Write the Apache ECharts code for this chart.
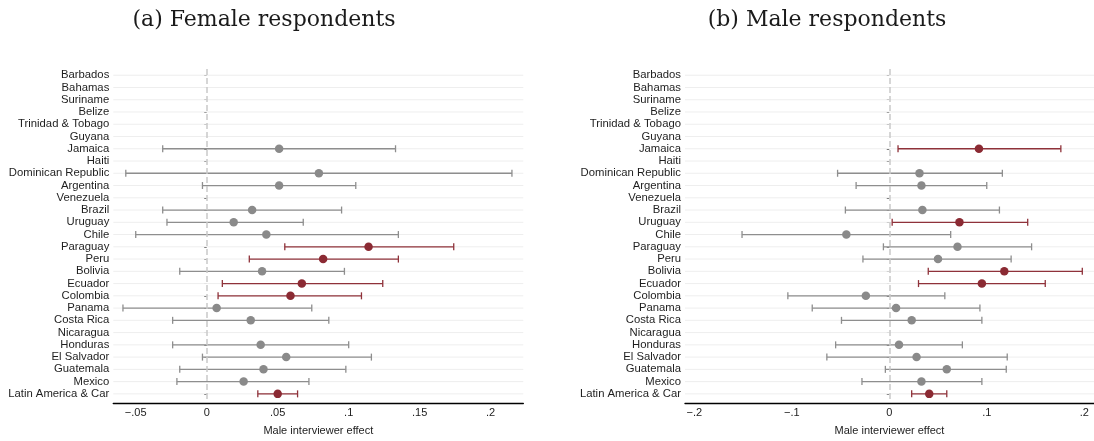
<!DOCTYPE html>
<html>
<head>
<meta charset="utf-8">
<script src="https://cdn.jsdelivr.net/npm/echarts@6/dist/echarts.min.js"></script>
<style>
  html, body { margin: 0; padding: 0; background: #fff; }
  #chart { width: 1094px; height: 441px; }
</style>
</head>
<body>
<div id="chart"></div>
<script>
// Countries, top to bottom
const countries = [
  'Barbados', 'Bahamas', 'Suriname', 'Belize', 'Trinidad & Tobago', 'Guyana',
  'Jamaica', 'Haiti', 'Dominican Republic', 'Argentina', 'Venezuela', 'Brazil',
  'Uruguay', 'Chile', 'Paraguay', 'Peru', 'Bolivia', 'Ecuador', 'Colombia',
  'Panama', 'Costa Rica', 'Nicaragua', 'Honduras', 'El Salvador', 'Guatemala',
  'Mexico', 'Latin America & Car'
];

// (a) Female respondents: estimate and 95% interval (null = no estimate)
const femaleEst = [null, null, null, null, null, null,
  0.051, null, 0.079, 0.051, null, 0.032,
  0.019, 0.042, 0.114, 0.082, 0.039, 0.067, 0.059,
  0.007, 0.031, null, 0.038, 0.056, 0.040,
  0.026, 0.050];
const femaleLow = [null, null, null, null, null, null,
  -0.031, null, -0.057, -0.003, null, -0.031,
  -0.028, -0.050, 0.055, 0.030, -0.019, 0.011, 0.008,
  -0.059, -0.024, null, -0.024, -0.003, -0.019,
  -0.021, 0.036];
const femaleHigh = [null, null, null, null, null, null,
  0.133, null, 0.215, 0.105, null, 0.095,
  0.068, 0.135, 0.174, 0.135, 0.097, 0.124, 0.109,
  0.074, 0.086, null, 0.100, 0.116, 0.098,
  0.072, 0.064];

// (b) Male respondents
const maleEst = [null, null, null, null, null, null,
  0.092, null, 0.031, 0.033, null, 0.034,
  0.072, -0.044, 0.070, 0.050, 0.118, 0.095, -0.024,
  0.007, 0.023, null, 0.010, 0.028, 0.059,
  0.033, 0.041];
const maleLow = [null, null, null, null, null, null,
  0.009, null, -0.053, -0.034, null, -0.045,
  0.003, -0.151, -0.006, -0.027, 0.040, 0.030, -0.104,
  -0.079, -0.049, null, -0.055, -0.064, -0.004,
  -0.028, 0.023];
const maleHigh = [null, null, null, null, null, null,
  0.176, null, 0.116, 0.100, null, 0.113,
  0.142, 0.063, 0.146, 0.125, 0.198, 0.160, 0.057,
  0.093, 0.095, null, 0.075, 0.121, 0.120,
  0.095, 0.059];

const femaleTicks = [-0.05, 0, 0.05, 0.1, 0.15, 0.2];
const maleTicks = [-0.2, -0.1, 0, 0.1, 0.2];

const RED_LINE = '#8f323a';
const RED_DOT = '#8b2a33';
const GREY_LINE = '#8e8e8e';
const GREY_DOT = '#8a8a8a';
const FONT = '"Liberation Sans", Arial, Helvetica, sans-serif';

function tickLabel(v) {
  if (Math.abs(v) < 1e-9) return '0';
  let s = Math.abs(v).toFixed(2).replace(/^0/, '').replace(/0$/, '');
  return (v < 0 ? '\u2212' : '') + s;
}

const chart = echarts.init(document.getElementById('chart'), null, { renderer: 'canvas' });

const panels = [
  { est: femaleEst, low: femaleLow, high: femaleHigh, ticks: femaleTicks, min: -0.0658, max: 0.223 },
  { est: maleEst, low: maleLow, high: maleHigh, ticks: maleTicks, min: -0.2095, max: 0.21 }
];

const grids = [
  { left: 113.3, width: 410, top: 69.1, height: 333.8 },
  { left: 685, width: 409, top: 69.1, height: 333.8 }
];

const xAxes = [], yAxes = [], series = [];

panels.forEach((p, k) => {
  xAxes.push({
    type: 'value', gridIndex: k, min: p.min, max: p.max, offset: 3,
    axisLine: { show: true, lineStyle: { color: '#000', width: 1.4 } },
    axisTick: { show: false },
    splitLine: { show: false },
    axisLabel: {
      customValues: p.ticks, formatter: tickLabel, margin: 4,
      color: '#222', fontSize: 11, fontFamily: FONT
    },
    name: 'Male interviewer effect', nameLocation: 'middle', nameGap: 22,
    nameTextStyle: { color: '#222', fontSize: 11, fontFamily: FONT }
  });
  yAxes.push({
    type: 'category', gridIndex: k, data: countries, inverse: true,
    boundaryGap: true,
    axisLine: { show: false },
    axisTick: { show: true, alignWithLabel: true, length: 2.5, lineStyle: { color: '#555', width: 1 } },
    axisLabel: { margin: 4, color: '#1e1e1e', fontSize: 11.3, fontFamily: FONT, interval: 0 },
    splitLine: { show: false }
  });

  // horizontal guide line for every country row, plus the zero reference
  series.push({
    type: 'custom', xAxisIndex: k, yAxisIndex: k, silent: true, z: 1,
    data: countries.map((c, i) => [0, i]),
    encode: { x: 0, y: 1 },
    renderItem: (params, api) => {
      const y = api.coord([0, api.value(1)])[1];
      const cs = params.coordSys;
      return {
        type: 'line',
        shape: { x1: cs.x, y1: y, x2: cs.x + cs.width, y2: y },
        style: { stroke: '#eeeeee', lineWidth: 1 }
      };
    },
    markLine: {
      silent: true, symbol: 'none', label: { show: false },
      lineStyle: { color: '#c9c9c9', width: 1.5, type: [6, 3] },
      data: [{ xAxis: 0 }]
    }
  });

  // confidence intervals with end caps
  const ci = [];
  countries.forEach((c, i) => {
    if (p.est[i] !== null) ci.push([p.low[i], i, p.high[i]]);
  });
  series.push({
    type: 'custom', xAxisIndex: k, yAxisIndex: k, silent: true, z: 2,
    data: ci,
    encode: { x: [0, 2], y: 1 },
    renderItem: (params, api) => {
      const lo = api.value(0), hi = api.value(2), row = api.value(1);
      const a = api.coord([lo, row]);
      const b = api.coord([hi, row]);
      const color = lo > 0 ? RED_LINE : GREY_LINE;
      const st = { stroke: color, lineWidth: 1.3 };
      const h = 3.5;
      return {
        type: 'group',
        children: [
          { type: 'line', shape: { x1: a[0], y1: a[1], x2: b[0], y2: b[1] }, style: st },
          { type: 'line', shape: { x1: a[0], y1: a[1] - h, x2: a[0], y2: a[1] + h }, style: st },
          { type: 'line', shape: { x1: b[0], y1: b[1] - h, x2: b[0], y2: b[1] + h }, style: st }
        ]
      };
    }
  });

  // point estimates
  const pts = [];
  countries.forEach((c, i) => {
    if (p.est[i] !== null) pts.push([p.est[i], i]);
  });
  series.push({
    type: 'scatter', xAxisIndex: k, yAxisIndex: k, z: 3, silent: true,
    symbol: 'circle', symbolSize: 8.5,
    data: pts,
    itemStyle: {
      opacity: 1,
      color: (params) => (p.low[params.value[1]] > 0 ? RED_DOT : GREY_DOT)
    }
  });
});

chart.setOption({
  animation: false,
  backgroundColor: '#fff',
  grid: grids,
  xAxis: xAxes,
  yAxis: yAxes,
  series: series,
  graphic: [
    {
      type: 'text', x: 264, y: 20,
      style: { text: '(a) Female respondents', align: 'center', verticalAlign: 'middle',
               font: '22px "DejaVu Serif", serif', fill: '#1a1a1a' }
    },
    {
      type: 'text', x: 827, y: 20,
      style: { text: '(b) Male respondents', align: 'center', verticalAlign: 'middle',
               font: '22px "DejaVu Serif", serif', fill: '#1a1a1a' }
    }
  ]
});
</script>
</body>
</html>
